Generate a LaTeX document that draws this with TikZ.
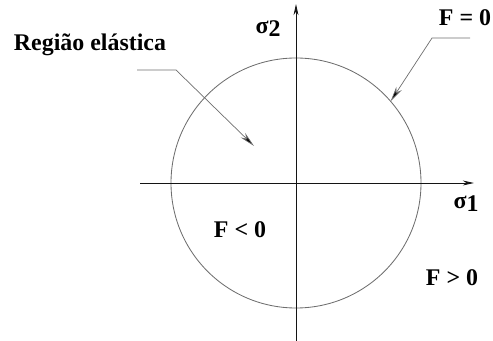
\documentclass[tikz,border=0pt]{standalone}
\usepackage{fontspec}
\setmainfont{Liberation Serif}
\usetikzlibrary{arrows.meta, calc}
\definecolor{Cline}{RGB}{110,110,110}
\definecolor{Caxis}{RGB}{20,20,20}

\begin{document}
\begin{tikzpicture}[x=0.025cm, y=0.025cm,
    lbl/.style={font=\fontsize{17}{19}\selectfont\bfseries, inner sep=0pt},
    leader/.style={Cline, line width=0.5pt, -{Stealth[length=11pt, width=4.5pt, fill=black]}},
    axis/.style={Caxis, line width=0.6pt, -{Stealth[length=8pt, width=3.5pt]}}]

    \useasboundingbox (0,0) rectangle (493,341);

    %% Origin
    \coordinate (O) at (296,158);

    %% --- Yield surface ---
    \draw[Cline, line width=0.6pt] (O) circle[radius=125];

    %% --- Axes ---
    \coordinate (X0) at (140,158);
    \coordinate (X1) at (474,158);
    \coordinate (Y0) at (296,0);
    \coordinate (Y1) at (296,337);
    \draw[axis] (X0) -- (X1);
    \draw[axis] (Y0) -- (Y1);
    \node[lbl] (s1) at (466,137) {σ\raisebox{-0.3ex}{1}};
    \node[lbl] (s2) at (268,312) {σ\raisebox{-0.3ex}{2}};

    %% --- Labels ---
    \node[lbl] (reg) at (90,296) {Região elástica};
    \node[lbl] (f0) at (465,323) {F = 0};
    \node[lbl] (fneg) at (240,111) {F < 0};
    \node[lbl] (fpos) at (452,63) {F > 0};

    %% --- Leaders ---
    \coordinate (A0) at (137,271);
    \coordinate (A1) at (176,271);
    \coordinate (A2) at (254,195);
    \draw[leader] (A0) -- (A1) -- (A2);

    \coordinate (B0) at (470,303);
    \coordinate (B1) at (432,303);
    \coordinate (B2) at ($(O)+(40.8:125)$);
    \draw[leader] (B0) -- (B1) -- (B2);

\end{tikzpicture}
\end{document}
